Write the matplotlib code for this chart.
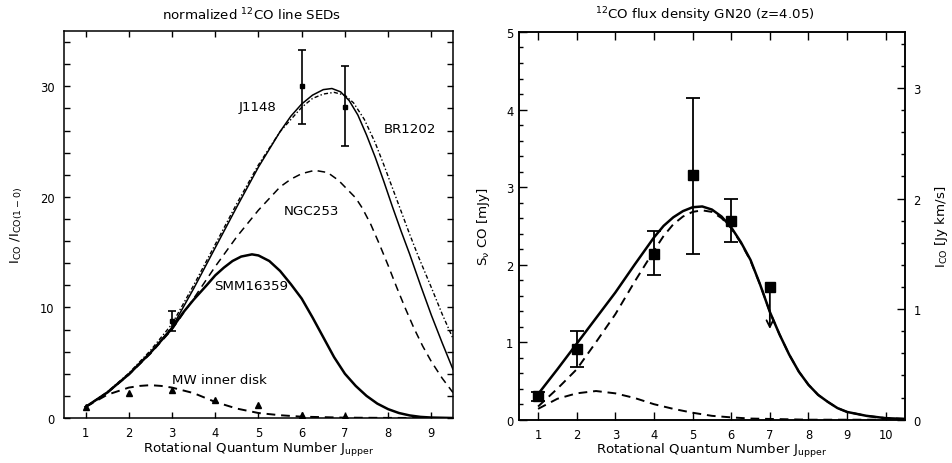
import matplotlib
matplotlib.use("Agg")
import matplotlib.pyplot as plt
from matplotlib.ticker import MultipleLocator

plt.rcParams['font.family'] = ['DejaVu Sans']
plt.rcParams['mathtext.fontset'] = 'custom'
plt.rcParams['mathtext.rm'] = 'DejaVu Sans'
plt.rcParams['mathtext.it'] = 'DejaVu Sans'
plt.rcParams['mathtext.default'] = 'regular'

# ---------------- left panel data (normalized SEDs) ----------------
br1202_j = [1, 1.5, 2, 2.5, 3, 3.5, 4, 4.5, 5, 5.5, 5.75, 6, 6.25, 6.5, 6.7, 6.9, 7.1, 7.3, 7.5, 7.7, 7.9,
            8.1, 8.3, 8.5, 8.75, 9.0, 9.25, 9.5]
br1202_v = [1.0, 2.3, 3.95, 5.9, 8.2, 11.7, 15.4, 19.1, 22.7, 25.9, 27.3, 28.4, 29.2, 29.7, 29.8, 29.5, 28.7,
            27.4, 25.6, 23.6, 21.4, 19.1, 16.9, 14.8, 12.0, 9.3, 6.8, 4.4]

j1148_j = [1, 1.5, 2, 2.5, 3, 3.5, 4, 4.5, 5, 5.5, 6, 6.25, 6.5, 6.75, 7.0, 7.2, 7.45, 7.7, 7.9, 8.1, 8.3,
           8.5, 8.7, 9.0, 9.25, 9.5]
j1148_v = [1.0, 2.35, 4.05, 6.1, 8.5, 12.0, 15.7, 19.4, 22.9, 25.9, 28.1, 28.9, 29.3, 29.45, 29.2, 28.5,
           27.0, 24.9, 22.9, 20.8, 18.7, 16.6, 14.6, 11.8, 9.4, 7.2]

ngc253_j = [1, 1.5, 2, 2.5, 3, 3.5, 4, 4.5, 5, 5.5, 5.75, 6, 6.3, 6.6, 6.85, 7.05, 7.25, 7.4, 7.6, 7.8,
            8.0, 8.2, 8.4, 8.6, 8.8, 9.0, 9.25, 9.5]
ngc253_v = [1.0, 2.25, 3.9, 5.8, 8.0, 10.8, 13.7, 16.4, 18.8, 20.9, 21.6, 22.1, 22.4, 22.2, 21.5, 20.7,
            19.9, 19.0, 17.5, 15.7, 13.8, 11.8, 9.9, 8.1, 6.5, 5.1, 3.6, 2.3]

smm_j = [1, 1.5, 2, 2.5, 3, 3.25, 3.5, 3.8, 4.0, 4.2, 4.4, 4.6, 4.85, 5.0, 5.25, 5.5, 5.75, 6.0, 6.25,
         6.5, 6.75, 7.0, 7.25, 7.5, 7.75, 8.0, 8.25, 8.5, 8.75, 9.0, 9.5]
smm_v = [1.0, 2.3, 3.95, 5.9, 8.1, 9.5, 10.7, 12.0, 12.9, 13.6, 14.2, 14.6, 14.8, 14.7, 14.2, 13.3, 12.1,
         10.8, 9.1, 7.3, 5.5, 4.0, 2.9, 2.0, 1.3, 0.8, 0.45, 0.23, 0.1, 0.04, 0.0]

mw_j = [1, 1.5, 2, 2.25, 2.5, 2.75, 3, 3.5, 4, 4.5, 5, 5.5, 6, 7, 8, 9, 9.5]
mw_v = [1.0, 2.1, 2.75, 2.9, 2.97, 2.9, 2.75, 2.25, 1.45, 0.85, 0.45, 0.25, 0.12, 0.03, 0.01, 0.0, 0.0]

mw_pts_j = [1, 2, 3, 4, 5, 6, 7]
mw_pts_v = [1.0, 2.25, 2.55, 1.65, 1.2, 0.25, 0.15]

hiz_pts_j = [3, 6, 7]
hiz_pts_v = [8.8, 30.0, 28.1]
hiz_pts_lo = [7.9, 26.6, 24.6]
hiz_pts_hi = [9.7, 33.3, 31.8]

left_labels = ["J1148", "BR1202", "NGC253", "SMM16359", "MW inner disk"]
left_label_x = [4.98, 8.5, 6.22, 4.82, 4.09]
left_label_y = [28.2, 26.2, 18.75, 11.96, 3.44]

# ---------------- right panel data (GN20) ----------------
gn_tot_j = [1, 1.5, 2, 2.5, 3, 3.5, 4, 4.25, 4.5, 4.75, 5.0, 5.25, 5.5, 5.75, 6.0, 6.25, 6.5, 6.75, 7.0,
            7.25, 7.5, 7.75, 8.0, 8.25, 8.5, 8.75, 9.0, 9.5, 10, 10.5]
gn_tot_v = [0.33, 0.65, 0.98, 1.31, 1.64, 2.0, 2.35, 2.50, 2.61, 2.69, 2.74, 2.75, 2.71, 2.62, 2.48, 2.29,
            2.06, 1.74, 1.39, 1.10, 0.84, 0.62, 0.45, 0.32, 0.23, 0.15, 0.1, 0.05, 0.02, 0.01]

gn_hot_j = [1, 1.5, 2, 2.5, 3, 3.5, 4, 4.25, 4.5, 4.75, 5.0, 5.25, 5.5, 5.75, 6.0, 6.25, 6.5, 6.75, 7.0,
            7.25, 7.5, 7.75, 8.0, 8.25, 8.5, 8.75, 9.0, 9.5, 10, 10.5]
gn_hot_v = [0.17, 0.4, 0.65, 1.0, 1.36, 1.78, 2.18, 2.37, 2.52, 2.62, 2.68, 2.70, 2.68, 2.60, 2.47, 2.28,
            2.05, 1.74, 1.39, 1.10, 0.84, 0.62, 0.45, 0.32, 0.23, 0.15, 0.1, 0.05, 0.02, 0.01]

gn_cold_j = [1, 1.5, 2, 2.5, 3, 3.5, 4, 4.5, 5, 5.5, 6, 6.5, 7, 8, 9, 10, 10.5]
gn_cold_v = [0.14, 0.27, 0.34, 0.37, 0.34, 0.28, 0.2, 0.14, 0.09, 0.05, 0.03, 0.015, 0.01, 0.0, 0.0, 0.0, 0.0]

gn_pts_j = [1, 2, 4, 5, 6]
gn_pts_v = [0.30, 0.91, 2.14, 3.15, 2.56]
gn_pts_lo = [0.24, 0.68, 1.86, 2.14, 2.29]
gn_pts_hi = [0.36, 1.14, 2.43, 4.15, 2.85]

gn_lim_j = 7
gn_lim_v = 1.71
gn_lim_arrow_to = 1.17

mjy_per_jykms = 1.426

fig = plt.figure(figsize=(9.52, 4.64), dpi=100)
axL = fig.add_axes([0.0672, 0.097, 0.4086, 0.834])
axR = fig.add_axes([0.5449, 0.0933, 0.4058, 0.8356])

FS_TICK = 8.3
FS_LAB = 9.6
LW_FRAME = 1.1

def style_axis(ax):
    for s in ax.spines.values():
        s.set_linewidth(LW_FRAME)

# ---- left ----
axL.plot(br1202_j, br1202_v, color='k', lw=1.1)
axL.plot(j1148_j, j1148_v, color='k', lw=1.0, linestyle=(0, (3, 1.6, 1, 1.6)))
axL.plot(ngc253_j, ngc253_v, color='k', lw=1.1, linestyle=(0, (5, 3.5)))
axL.plot(smm_j, smm_v, color='k', lw=1.8)
axL.plot(mw_j, mw_v, color='k', lw=1.4, linestyle=(0, (4.5, 3)))
axL.plot(mw_pts_j, mw_pts_v, linestyle='none', marker='^', color='k', ms=5)
yerr = [[v - lo for v, lo in zip(hiz_pts_v, hiz_pts_lo)], [hi - v for v, hi in zip(hiz_pts_v, hiz_pts_hi)]]
axL.errorbar(hiz_pts_j, hiz_pts_v, yerr=yerr, fmt='s', color='k', ms=3.5, capsize=3, elinewidth=1.2, capthick=1.2)
for t, x, y in zip(left_labels, left_label_x, left_label_y):
    axL.text(x, y, t, ha='center', va='center', fontsize=FS_LAB)

axL.set_xlim(0.5, 9.5)
axL.set_ylim(0, 35)
axL.xaxis.set_major_locator(MultipleLocator(1))
axL.yaxis.set_major_locator(MultipleLocator(10))
axL.yaxis.set_minor_locator(MultipleLocator(2))
axL.tick_params(which='both', direction='in', top=True, right=True, width=1.0, labelsize=FS_TICK)
axL.tick_params(which='major', length=4.5)
axL.tick_params(which='minor', length=4.5)
axL.tick_params(axis='y', pad=7)
axL.tick_params(axis='x', pad=6)
style_axis(axL)
axL.set_xlabel(r'Rotational Quantum Number J$_{upper}$', fontsize=FS_LAB)
axL.xaxis.set_label_coords(0.5, -0.058)
axL.set_ylabel(r'I$_{CO}$ /I$_{CO(1-0)}$', fontsize=FS_LAB)
axL.yaxis.set_label_coords(-0.10, 0.5)
axL.text(0.483, 1.045, r'normalized $^{12}$CO line SEDs', transform=axL.transAxes,
         ha='center', va='center', fontsize=FS_LAB)

# ---- right ----
axR.plot(gn_tot_j, gn_tot_v, color='k', lw=1.8)
axR.plot(gn_hot_j, gn_hot_v, color='k', lw=1.4, linestyle=(0, (4.5, 3)))
axR.plot(gn_cold_j, gn_cold_v, color='k', lw=1.4, linestyle=(0, (4.5, 3)))
yerr2 = [[v - lo for v, lo in zip(gn_pts_v, gn_pts_lo)], [hi - v for v, hi in zip(gn_pts_v, gn_pts_hi)]]
axR.errorbar(gn_pts_j, gn_pts_v, yerr=yerr2, fmt='s', color='k', ms=7.5, capsize=5, elinewidth=1.3, capthick=1.3)
axR.plot([gn_lim_j], [gn_lim_v], linestyle='none', marker='s', color='k', ms=7.5)
axR.annotate('', xy=(gn_lim_j, gn_lim_arrow_to), xytext=(gn_lim_j, gn_lim_v),
             arrowprops=dict(arrowstyle='->', color='k', lw=1.3, mutation_scale=12,
                             shrinkA=0, shrinkB=0))

axR.set_xlim(0.5, 10.5)
axR.set_ylim(0, 5)
axR.xaxis.set_major_locator(MultipleLocator(1))
axR.yaxis.set_major_locator(MultipleLocator(1))
axR.yaxis.set_minor_locator(MultipleLocator(0.2))
axR.tick_params(which='both', direction='in', top=True, right=False, width=1.0, labelsize=FS_TICK)
axR.tick_params(which='major', length=5.5)
axR.tick_params(which='minor', length=3)
axR.tick_params(axis='y', pad=4)
axR.tick_params(axis='x', pad=6)
style_axis(axR)
axR.set_xlabel(r'Rotational Quantum Number J$_{upper}$', fontsize=FS_LAB)
axR.xaxis.set_label_coords(0.5, -0.056)
axR.set_ylabel(r'S$_{\nu}$ CO [mJy]', fontsize=FS_LAB)
axR.yaxis.set_label_coords(-0.07, 0.5)
axR.text(0.482, 1.045, r'$^{12}$CO flux density GN20 (z=4.05)', transform=axR.transAxes,
         ha='center', va='center', fontsize=FS_LAB)

axT = axR.twinx()
axT.set_ylim(0, 5 / mjy_per_jykms)
axT.yaxis.set_major_locator(MultipleLocator(1))
axT.yaxis.set_minor_locator(MultipleLocator(0.2))
axT.tick_params(which='both', direction='in', width=1.0, labelsize=FS_TICK)
axT.tick_params(which='major', length=5.5)
axT.tick_params(which='minor', length=3)
axT.tick_params(axis='y', pad=6)
axT.set_ylabel(r'I$_{CO}$ [Jy km/s]', fontsize=FS_LAB)
axT.yaxis.set_label_coords(1.072, 0.5)
style_axis(axT)

fig.savefig('out.png', dpi=100)
